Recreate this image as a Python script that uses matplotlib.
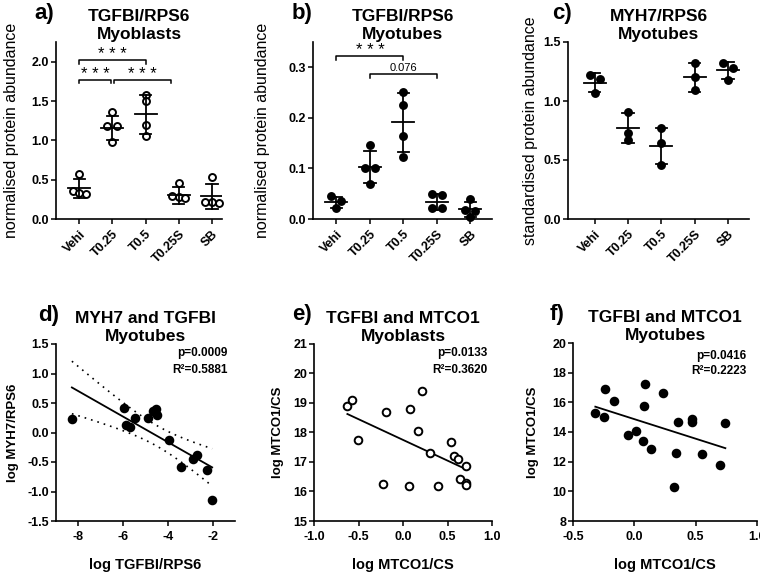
import numpy as np
import matplotlib
matplotlib.use("Agg")
import matplotlib.pyplot as plt

plt.rcParams['font.family'] = ['Liberation Sans', 'DejaVu Sans']
plt.rcParams['axes.unicode_minus'] = False

# ---- top row data (group values) ----
groups = ["Vehi", "T0.25", "T0.5", "T0.25S", "SB"]

a_vals = [[0.57, 0.35, 0.33, 0.32],
          [1.36, 1.18, 1.18, 0.98],
          [1.58, 1.50, 1.20, 1.05],
          [0.46, 0.29, 0.28, 0.27],
          [0.54, 0.22, 0.21, 0.20]]
a_mean = [0.39, 1.16, 1.33, 0.30, 0.29]
a_sd = [0.12, 0.15, 0.25, 0.11, 0.16]

b_vals = [[0.045, 0.036, 0.022],
          [0.147, 0.100, 0.100, 0.070],
          [0.252, 0.226, 0.165, 0.123],
          [0.050, 0.047, 0.022, 0.021],
          [0.040, 0.017, 0.016, 0.003]]
b_mean = [0.033, 0.103, 0.191, 0.034, 0.019]
b_sd = [0.011, 0.032, 0.058, 0.016, 0.015]

c_vals = [[1.22, 1.19, 1.07],
          [0.91, 0.73, 0.67],
          [0.77, 0.64, 0.46],
          [1.32, 1.20, 1.09],
          [1.32, 1.28, 1.18]]
c_mean = [1.155, 0.77, 0.62, 1.20, 1.26]
c_sd = [0.08, 0.13, 0.15, 0.12, 0.07]

# brackets: (from, to, y, label)
a_brackets = [(0, 2, 2.02, "***"), (0, 0.97, 1.77, "***"), (1.05, 2.75, 1.77, "***")]
b_brackets = [(0, 2, 0.322, "***"), (1, 3, 0.286, "0.076")]

# ---- bottom row data ----
d_x = [-8.29, -5.96, -5.88, -5.70, -5.48, -4.90, -4.68, -4.53, -4.50,
       -3.94, -3.43, -2.89, -2.70, -2.26, -2.02]
d_y = [0.23, 0.41, 0.13, 0.09, 0.25, 0.25, 0.36, 0.40, 0.29,
       -0.12, -0.58, -0.45, -0.38, -0.63, -1.15]

e_x = [-0.625, -0.573, -0.506, -0.225, -0.187, 0.067, 0.075, 0.165, 0.217,
       0.30, 0.393, 0.536, 0.569, 0.618, 0.644, 0.712, 0.704, 0.712]
e_y = [18.91, 19.11, 17.73, 16.26, 18.68, 16.20, 18.81, 18.06, 19.42,
       17.30, 16.19, 17.67, 17.19, 17.11, 16.44, 16.87, 16.28, 16.21]

f_x = [-0.318, -0.25, -0.236, -0.168, -0.052, 0.014, 0.071, 0.082, 0.09,
       0.136, 0.234, 0.340, 0.323, 0.356, 0.47, 0.473, 0.552, 0.742, 0.701]
f_y = [15.31, 14.98, 16.92, 16.10, 13.82, 14.09, 13.40, 15.72, 17.26,
       12.85, 16.60, 12.58, 10.26, 14.70, 14.88, 14.70, 12.51, 14.64, 11.77]

stats = {"d": ("p=0.0009", "R²=0.5881"),
         "e": ("p=0.0133", "R²=0.3620"),
         "f": ("p=0.0416", "R²=0.2223")}

W, H = 760, 577
fig = plt.figure(figsize=(W / 100, H / 100), dpi=100)


def px_axes(l, r, t, b):
    ax = fig.add_axes([l / W, 1 - b / H, (r - l) / W, (b - t) / H])
    ax.px = (l, r, t, b)
    return ax


def style(ax):
    for s in ["top", "right"]:
        ax.spines[s].set_visible(False)
    for s in ["left", "bottom"]:
        ax.spines[s].set_linewidth(1.2)
    ax.tick_params(width=1.1, length=3.5, labelsize=9, pad=1.5)
    for lab in ax.get_xticklabels() + ax.get_yticklabels():
        lab.set_fontweight("bold")


def ylabel_at(ax, text, cx, **kw):
    # cx = horizontal centre of the label in figure pixels
    l, r, t, b = ax.px
    ax.set_ylabel(text, **kw)
    ax.yaxis.label.set_va("center")
    ax.yaxis.set_label_coords((cx - l) / (r - l), 0.5)


def xlabel_at(ax, text, cy, **kw):
    l, r, t, b = ax.px
    ax.set_xlabel(text, **kw)
    ax.xaxis.label.set_va("center")
    ax.xaxis.set_label_coords(0.5, (b - cy) / (b - t))


def offsets(vals, tol):
    # spread points with near-equal values side by side
    order = np.argsort(vals)[::-1]
    off = np.zeros(len(vals))
    clusters = [[order[0]]]
    for i in order[1:]:
        if abs(vals[clusters[-1][-1]] - vals[i]) < tol:
            clusters[-1].append(i)
        else:
            clusters.append([i])
    for c in clusters:
        if len(c) > 1:
            w = 0.15 if len(c) == 2 else 0.2
            for k, v in zip(c, np.linspace(-w, w, len(c))):
                off[k] = v
    return off


def dot_panel(ax, vals, mean, sd, ylim, yticks, filled, brackets=()):
    tol = 0.035 * (ylim[1] - ylim[0])
    for i, v in enumerate(vals):
        xs = i + offsets(np.array(v), tol)
        ax.plot(xs, v, "o", ms=5, mew=1.4, mec="black",
                mfc="black" if filled else "white", zorder=3, clip_on=False)
        ax.plot([i - 0.33, i + 0.33], [mean[i]] * 2, color="black", lw=1.3, zorder=4)
        ax.plot([i, i], [mean[i] - sd[i], mean[i] + sd[i]], color="black", lw=1.3, zorder=4)
        for yy in (mean[i] - sd[i], mean[i] + sd[i]):
            ax.plot([i - 0.17, i + 0.17], [yy, yy], color="black", lw=1.3, zorder=4)
    h = 0.02 * (ylim[1] - ylim[0])
    for x1, x2, y, lab in brackets:
        ax.plot([x1, x1, x2, x2], [y - h, y, y, y - h], color="black", lw=1.1, clip_on=False)
        if lab == "***":
            ax.text((x1 + x2) / 2, y - 0.5 * h, " ".join(lab), ha="center", va="bottom",
                    fontsize=12)
        else:
            ax.text((x1 + x2) / 2, y + 0.4 * h, lab, ha="center", va="bottom", fontsize=8)
    ax.set_ylim(*ylim)
    ax.set_yticks(yticks)
    ax.set_yticklabels(["%.1f" % t for t in yticks])
    ax.set_xticks(range(len(groups)))
    ax.set_xticklabels(groups, rotation=45, ha="right", rotation_mode="anchor")
    style(ax)
    ax.tick_params(axis="x", pad=3)


def scatter_panel(ax, x, y, filled, xlim, xticks, ylim, yticks, yfmt, xfmt, key,
                  stat_pos, ci=False):
    x = np.array(x)
    y = np.array(y)
    ax.plot(x, y, "o", ms=5.5, mew=1.4, mec="black",
            mfc="black" if filled else "white", zorder=3, clip_on=False)
    slope, icpt = np.polyfit(x, y, 1)
    xx = np.linspace(x.min(), x.max(), 100)
    ax.plot(xx, slope * xx + icpt, color="black", lw=1.3)
    if ci:
        n = len(x)
        resid = y - (slope * x + icpt)
        s = np.sqrt(np.sum(resid ** 2) / (n - 2))
        se = s * np.sqrt(1 / n + (xx - x.mean()) ** 2 / np.sum((x - x.mean()) ** 2))
        t = 2.16
        ax.plot(xx, slope * xx + icpt + t * se, color="black", lw=1.2, ls=(0, (1, 3)))
        ax.plot(xx, slope * xx + icpt - t * se, color="black", lw=1.2, ls=(0, (1, 3)))
    ax.set_xlim(*xlim)
    ax.set_xticks(xticks)
    ax.set_xticklabels([xfmt % t for t in xticks])
    ax.set_ylim(*ylim)
    ax.set_yticks(yticks)
    ax.set_yticklabels([yfmt % t for t in yticks])
    p, r2 = stats[key]
    xr, yp, yr = stat_pos
    ax.text(xr, yp, p, transform=ax.transAxes, ha="right", va="center",
            fontsize=8.5, fontweight="bold")
    ax.text(xr, yr, r2, transform=ax.transAxes, ha="right", va="center",
            fontsize=8.5, fontweight="bold")
    style(ax)
    ax.tick_params(axis="x", pad=4)


def titles(ax, letter, title, lx, ly, size, pad):
    ax.set_title(title, fontsize=size, fontweight="bold", linespacing=1.22, pad=pad)
    fig.text(lx / W, 1 - ly / H, letter, fontsize=16, fontweight="bold", va="center")


# --- top row ---
ax_a = px_axes(56, 222, 42, 219)
dot_panel(ax_a, a_vals, a_mean, a_sd, (0, 2.25), [0, 0.5, 1.0, 1.5, 2.0], False, a_brackets)
ax_a.set_xlim(-0.7, 4.3)
ylabel_at(ax_a, "normalised protein abundance", 12, fontsize=11.5)
titles(ax_a, "a)", "TGFBI/RPS6\nMyoblasts", 34, 14, 12.5, 2)

ax_b = px_axes(313, 492, 42, 219)
dot_panel(ax_b, b_vals, b_mean, b_sd, (0, 0.35), [0, 0.1, 0.2, 0.3], True, b_brackets)
ax_b.set_xlim(-0.7, 4.65)
ylabel_at(ax_b, "normalised protein abundance", 263, fontsize=11.5)
titles(ax_b, "b)", "TGFBI/RPS6\nMyotubes", 292, 14, 12.5, 2)

ax_c = px_axes(568, 749, 42, 219)
dot_panel(ax_c, c_vals, c_mean, c_sd, (0, 1.5), [0, 0.5, 1.0, 1.5], True)
ax_c.set_xlim(-0.8, 4.63)
ylabel_at(ax_c, "standardised protein abundance", 530, fontsize=11.5)
titles(ax_c, "c)", "MYH7/RPS6\nMyotubes", 552, 14, 12.5, 2)

# --- bottom row ---
ax_d = px_axes(56, 235, 344, 521)
scatter_panel(ax_d, d_x, d_y, True, (-9, -1), [-8, -6, -4, -2],
              (-1.5, 1.5), [-1.5, -1.0, -0.5, 0.0, 0.5, 1.0, 1.5], "%.1f", "%d", "d",
              (0.96, 0.95, 0.853), ci=True)
ylabel_at(ax_d, "log MYH7/RPS6", 13, fontsize=9.5, fontweight="bold")
xlabel_at(ax_d, "log TGFBI/RPS6", 565, fontsize=10.5, fontweight="bold")
titles(ax_d, "d)", "MYH7 and TGFBI\nMyotubes", 38, 316, 12.5, 2.5)

ax_e = px_axes(314, 492, 344, 521)
scatter_panel(ax_e, e_x, e_y, False, (-1, 1), [-1.0, -0.5, 0.0, 0.5, 1.0],
              (15, 21), [15, 16, 17, 18, 19, 20, 21], "%d", "%.1f", "e",
              (0.976, 0.95, 0.853))
ylabel_at(ax_e, "log MTCO1/CS", 278, fontsize=9.5, fontweight="bold")
xlabel_at(ax_e, "log MTCO1/CS", 565, fontsize=10.5, fontweight="bold")
titles(ax_e, "e)", "TGFBI and MTCO1\nMyoblasts", 292, 315, 12.5, 2.5)

ax_f = px_axes(573, 757, 343, 521)
scatter_panel(ax_f, f_x, f_y, True, (-0.5, 1.0), [-0.5, 0.0, 0.5, 1.0],
              (8, 20), [8, 10, 12, 14, 16, 18, 20], "%d", "%.1f", "f",
              (0.944, 0.929, 0.844))
ylabel_at(ax_f, "log MTCO1/CS", 533, fontsize=9.5, fontweight="bold")
xlabel_at(ax_f, "log MTCO1/CS", 565, fontsize=10.5, fontweight="bold")
titles(ax_f, "f)", "TGFBI and MTCO1\nMyotubes", 550, 315, 12.5, 2.5)

fig.savefig("out.png", dpi=100)
